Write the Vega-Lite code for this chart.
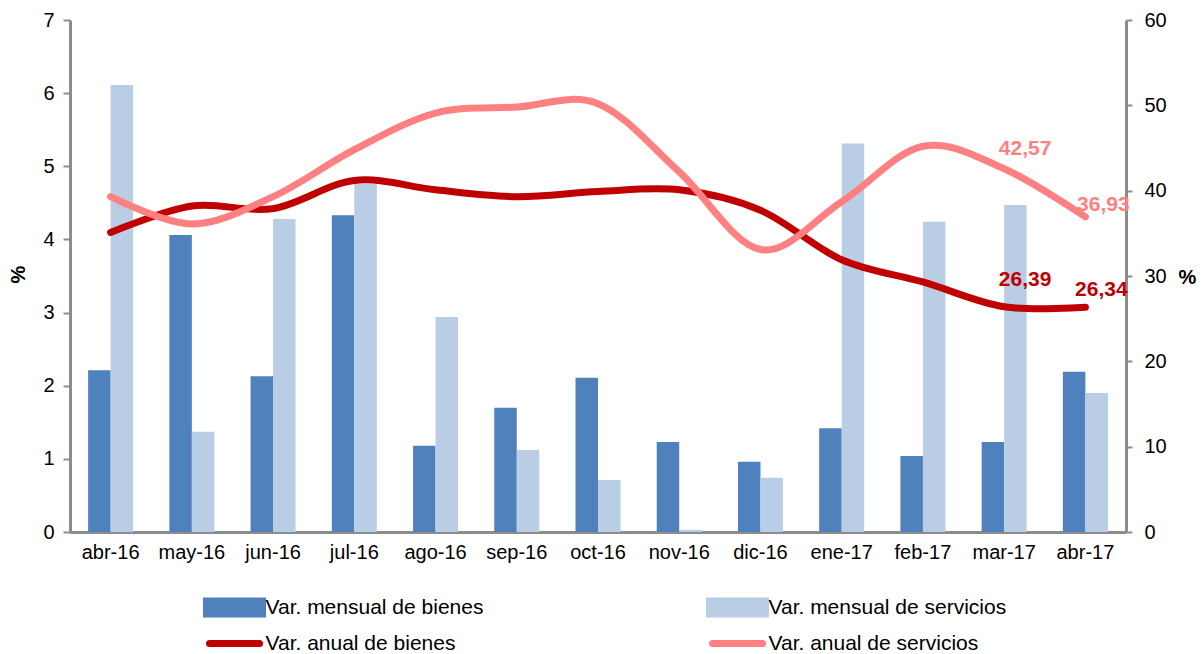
{
  "$schema": "https://vega.github.io/schema/vega-lite/v6.json",
  "width": 1056,
  "height": 512,
  "autosize": {"type": "none"},
  "padding": {"left": 70, "top": 20, "right": 76, "bottom": 122},
  "background": "white",
  "config": {
    "view": {"stroke": null},
    "font": "Liberation Sans",
    "axis": {"grid": false, "labelFont": "Liberation Sans", "labelColor": "#000000", "titleFont": "Liberation Sans", "titleColor": "#000000"}
  },
  "datasets": {
    "mensual": [
      {"mes": "abr-16", "serie": "Var. mensual de bienes", "valor": 2.21},
      {"mes": "abr-16", "serie": "Var. mensual de servicios", "valor": 6.11},
      {"mes": "may-16", "serie": "Var. mensual de bienes", "valor": 4.06},
      {"mes": "may-16", "serie": "Var. mensual de servicios", "valor": 1.37},
      {"mes": "jun-16", "serie": "Var. mensual de bienes", "valor": 2.13},
      {"mes": "jun-16", "serie": "Var. mensual de servicios", "valor": 4.28},
      {"mes": "jul-16", "serie": "Var. mensual de bienes", "valor": 4.33},
      {"mes": "jul-16", "serie": "Var. mensual de servicios", "valor": 4.76},
      {"mes": "ago-16", "serie": "Var. mensual de bienes", "valor": 1.18},
      {"mes": "ago-16", "serie": "Var. mensual de servicios", "valor": 2.94},
      {"mes": "sep-16", "serie": "Var. mensual de bienes", "valor": 1.70},
      {"mes": "sep-16", "serie": "Var. mensual de servicios", "valor": 1.12},
      {"mes": "oct-16", "serie": "Var. mensual de bienes", "valor": 2.11},
      {"mes": "oct-16", "serie": "Var. mensual de servicios", "valor": 0.71},
      {"mes": "nov-16", "serie": "Var. mensual de bienes", "valor": 1.23},
      {"mes": "nov-16", "serie": "Var. mensual de servicios", "valor": 0.03},
      {"mes": "dic-16", "serie": "Var. mensual de bienes", "valor": 0.96},
      {"mes": "dic-16", "serie": "Var. mensual de servicios", "valor": 0.74},
      {"mes": "ene-17", "serie": "Var. mensual de bienes", "valor": 1.42},
      {"mes": "ene-17", "serie": "Var. mensual de servicios", "valor": 5.31},
      {"mes": "feb-17", "serie": "Var. mensual de bienes", "valor": 1.04},
      {"mes": "feb-17", "serie": "Var. mensual de servicios", "valor": 4.24},
      {"mes": "mar-17", "serie": "Var. mensual de bienes", "valor": 1.23},
      {"mes": "mar-17", "serie": "Var. mensual de servicios", "valor": 4.47},
      {"mes": "abr-17", "serie": "Var. mensual de bienes", "valor": 2.19},
      {"mes": "abr-17", "serie": "Var. mensual de servicios", "valor": 1.90}
    ],
    "anual": [
      {"mes": "abr-16", "serie": "Var. anual de bienes", "valor": 35.1},
      {"mes": "may-16", "serie": "Var. anual de bienes", "valor": 38.2},
      {"mes": "jun-16", "serie": "Var. anual de bienes", "valor": 37.9},
      {"mes": "jul-16", "serie": "Var. anual de bienes", "valor": 41.2},
      {"mes": "ago-16", "serie": "Var. anual de bienes", "valor": 40.1},
      {"mes": "sep-16", "serie": "Var. anual de bienes", "valor": 39.3},
      {"mes": "oct-16", "serie": "Var. anual de bienes", "valor": 39.9},
      {"mes": "nov-16", "serie": "Var. anual de bienes", "valor": 40.1},
      {"mes": "dic-16", "serie": "Var. anual de bienes", "valor": 37.7},
      {"mes": "ene-17", "serie": "Var. anual de bienes", "valor": 31.9},
      {"mes": "feb-17", "serie": "Var. anual de bienes", "valor": 29.3},
      {"mes": "mar-17", "serie": "Var. anual de bienes", "valor": 26.39, "etiqueta": "26,39"},
      {"mes": "abr-17", "serie": "Var. anual de bienes", "valor": 26.34, "etiqueta": "26,34"},
      {"mes": "abr-16", "serie": "Var. anual de servicios", "valor": 39.3},
      {"mes": "may-16", "serie": "Var. anual de servicios", "valor": 36.1},
      {"mes": "jun-16", "serie": "Var. anual de servicios", "valor": 39.3},
      {"mes": "jul-16", "serie": "Var. anual de servicios", "valor": 44.8},
      {"mes": "ago-16", "serie": "Var. anual de servicios", "valor": 49.1},
      {"mes": "sep-16", "serie": "Var. anual de servicios", "valor": 49.8},
      {"mes": "oct-16", "serie": "Var. anual de servicios", "valor": 50.2},
      {"mes": "nov-16", "serie": "Var. anual de servicios", "valor": 42.2},
      {"mes": "dic-16", "serie": "Var. anual de servicios", "valor": 33.1},
      {"mes": "ene-17", "serie": "Var. anual de servicios", "valor": 38.7},
      {"mes": "feb-17", "serie": "Var. anual de servicios", "valor": 45.2},
      {"mes": "mar-17", "serie": "Var. anual de servicios", "valor": 42.57, "etiqueta": "42,57"},
      {"mes": "abr-17", "serie": "Var. anual de servicios", "valor": 36.93, "etiqueta": "36,93"}
    ]
  },
  "encoding": {
    "x": {
      "field": "mes", "type": "nominal", "sort": null,
      "scale": {"domain": ["abr-16","may-16","jun-16","jul-16","ago-16","sep-16","oct-16","nov-16","dic-16","ene-17","feb-17","mar-17","abr-17"], "paddingInner": 0.446, "paddingOuter": 0.223},
      "axis": {"title": null, "labelAngle": 0, "labelFontSize": 20, "labelPadding": 10, "ticks": false, "domainColor": "#8C8C8C", "domainWidth": 3}
    }
  },
  "layer": [
    {
      "data": {"name": "mensual"},
      "mark": {"type": "bar"},
      "encoding": {
        "xOffset": {"field": "serie", "type": "nominal", "scale": {"domain": ["Var. mensual de bienes", "Var. mensual de servicios"], "paddingInner": 0, "paddingOuter": 0}},
        "y": {
          "field": "valor", "type": "quantitative",
          "scale": {"domain": [0, 7], "nice": false, "zero": true},
          "axis": {"orient": "left", "title": "%", "titleFontSize": 20, "titleFontWeight": "bold", "titleBaseline": "middle", "titleX": -52, "titleY": 254, "values": [0,1,2,3,4,5,6,7], "labelFontSize": 20, "labelPadding": 9, "tickSize": 7, "tickWidth": 2, "tickColor": "#8C8C8C", "domainColor": "#8C8C8C", "domainWidth": 3}
        },
        "color": {
          "field": "serie", "type": "nominal",
          "scale": {"domain": ["Var. mensual de bienes", "Var. mensual de servicios", "Var. anual de bienes", "Var. anual de servicios"], "range": ["#4F81BD", "#B9CDE5", "#C00000", "#FF8080"]},
          "legend": {
            "title": null, "orient": "none", "legendX": 135, "legendY": 577, "columns": 2, "direction": "horizontal",
            "columnPadding": 211, "rowPadding": 1, "padding": 0,
            "symbolSize": 100, "symbolOffset": 19, "labelOffset": 20.5,
            "labelFont": "Liberation Sans", "labelFontSize": 21, "labelColor": "#000000", "labelLimit": 400,
            "encode": {
              "symbols": {
                "update": {
                  "shape": {"signal": "indexof(datum.value, 'anual') >= 0 ? 'M-5,0H5' : 'M-5.6,-1.3H5.6V1.3H-5.6Z'"},
                  "fill": {"signal": "datum.value == 'Var. mensual de bienes' ? '#4F81BD' : (datum.value == 'Var. mensual de servicios' ? '#B9CDE5' : 'transparent')"},
                  "stroke": {"signal": "datum.value == 'Var. anual de bienes' ? '#C00000' : (datum.value == 'Var. anual de servicios' ? '#FF8080' : 'transparent')"},
                  "strokeWidth": {"value": 7},
                  "strokeCap": {"value": "round"},
                  "opacity": {"value": 1}
                }
              }
            }
          }
        }
      }
    },
    {
      "data": {"name": "anual"},
      "encoding": {
        "y": {
          "field": "valor", "type": "quantitative",
          "scale": {"domain": [0, 60], "nice": false, "zero": true},
          "axis": {"orient": "right", "title": "%", "titleFontSize": 20, "titleFontWeight": "bold", "titleAngle": 0, "titleAlign": "center", "titleBaseline": "middle", "titleX": 61, "titleY": 257, "values": [0,10,20,30,40,50,60], "labelFontSize": 20, "labelPadding": 12, "tickSize": 6, "tickWidth": 2, "tickColor": "#8C8C8C", "domainColor": "#8C8C8C", "domainWidth": 3}
        }
      },
      "layer": [
        {
          "mark": {"type": "line", "strokeWidth": 7, "strokeCap": "round", "strokeJoin": "round", "interpolate": "cardinal"},
          "encoding": {
            "color": {"field": "serie", "type": "nominal"},
            "detail": {"field": "serie"}
          }
        },
        {
          "transform": [{"filter": "datum.etiqueta == '42,57'"}],
          "mark": {"type": "text", "font": "Liberation Sans", "fontWeight": "bold", "fontSize": 21, "color": "#FF8080", "dx": 21, "dy": -20, "baseline": "middle", "align": "center"},
          "encoding": {"text": {"field": "etiqueta"}}
        },
        {
          "transform": [{"filter": "datum.etiqueta == '36,93'"}],
          "mark": {"type": "text", "font": "Liberation Sans", "fontWeight": "bold", "fontSize": 21, "color": "#FF8080", "dx": 18, "dy": -12, "baseline": "middle", "align": "center"},
          "encoding": {"text": {"field": "etiqueta"}}
        },
        {
          "transform": [{"filter": "datum.etiqueta == '26,39'"}],
          "mark": {"type": "text", "font": "Liberation Sans", "fontWeight": "bold", "fontSize": 21, "color": "#C00000", "dx": 21, "dy": -27, "baseline": "middle", "align": "center"},
          "encoding": {"text": {"field": "etiqueta"}}
        },
        {
          "transform": [{"filter": "datum.etiqueta == '26,34'"}],
          "mark": {"type": "text", "font": "Liberation Sans", "fontWeight": "bold", "fontSize": 21, "color": "#C00000", "dx": 16, "dy": -17, "baseline": "middle", "align": "center"},
          "encoding": {"text": {"field": "etiqueta"}}
        }
      ]
    }
  ],
  "resolve": {"scale": {"y": "independent"}, "axis": {"y": "independent"}}
}
